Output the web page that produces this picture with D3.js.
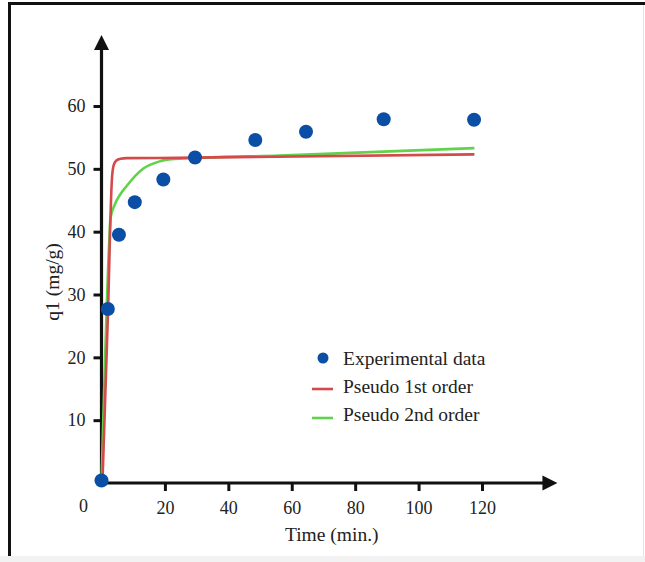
<!DOCTYPE html>
<html>
<head>
<meta charset="utf-8">
<script src="https://cdn.jsdelivr.net/npm/d3@7"></script>
<style>
  body { margin: 0; background: #fff; }
  text { font-family: "Liberation Serif", "Times New Roman", serif; fill: #222; }
</style>
</head>
<body>
<div id="myChart"></div>
<script>
const timeData = [0, 2, 5.5, 10.5, 19.5, 29.5, 48.5, 64.5, 89, 117.5];
const qData = [0.4, 27.7, 39.5, 44.7, 48.3, 51.8, 54.6, 55.9, 57.9, 57.8];

// points
const firstTime = [0.3, 2.1, 2.6, 3.0, 3.3, 3.8, 4.6, 6, 8, 24, 117.6];
const firstQ = [0, 28, 38, 45, 48.5, 50.5, 51.3, 51.6, 51.7, 51.75, 52.3];
const secondTime = [0, 2.4, 2.8, 4.1, 6, 8, 10.5, 13.1, 18.4, 22, 30, 56, 117.6];
const secondQ = [0, 38, 42, 44.2, 46, 47.3, 48.8, 50, 51.2, 51.55, 51.75, 52.1, 53.3];

const xTicks = [20, 40, 60, 80, 100, 120];
const yTicks = [10, 20, 30, 40, 50, 60];
const legendLabels = ["Experimental data", "Pseudo 1st order", "Pseudo 2nd order"];

const colors = { dots: "#0b4ea6", first: "#d44a4a", second: "#62d24c" };

const width = 645;
const height = 562;

const svg = d3
  .select("#myChart")
  .append("svg")
  .attr("width", width)
  .attr("height", height);

// picture frame
svg.append("rect").attr("x", 0).attr("y", 556).attr("width", width).attr("height", 6).attr("fill", "#f2f2f2");
svg.append("line").attr("x1", 8).attr("x2", width).attr("y1", 3.5).attr("y2", 3.5)
  .attr("stroke", "#111").attr("stroke-width", 3);
svg.append("line").attr("x1", 9.5).attr("x2", 9.5).attr("y1", 2).attr("y2", 556)
  .attr("stroke", "#111").attr("stroke-width", 3);
svg.append("line").attr("x1", 643.5).attr("x2", 643.5).attr("y1", 5).attr("y2", 556)
  .attr("stroke", "#e4e4e4").attr("stroke-width", 1);

const x = d3.scaleLinear().domain([0, 120]).range([101.5, 482]);
const y = d3.scaleLinear().domain([0, 60]).range([483, 106]);

const xEnd = 143.8; // arrow tip
const yEnd = 71.3;

const axes = svg.append("g");

// x axis
const xAxis = axes
  .append("g")
  .attr("transform", `translate(0, ${y(0)})`)
  .call(d3.axisBottom(x).tickValues(xTicks).tickSize(8).tickPadding(10));
xAxis.select(".domain").remove();
xAxis.selectAll(".tick line").attr("stroke", "#111").attr("stroke-width", 3);
xAxis.selectAll(".tick text").attr("font-size", 18).attr("fill", "#222")
  .style("font-family", '"Liberation Serif", "Times New Roman", serif');

// y axis
const yAxis = axes
  .append("g")
  .attr("transform", `translate(${x(0)}, 0)`)
  .call(d3.axisLeft(y).tickValues(yTicks).tickSize(8).tickPadding(8));
yAxis.select(".domain").remove();
yAxis.selectAll(".tick line").attr("stroke", "#111").attr("stroke-width", 3);
yAxis.selectAll(".tick text").attr("font-size", 18).attr("fill", "#222")
  .style("font-family", '"Liberation Serif", "Times New Roman", serif');

axes.append("line")
  .attr("x1", x(0) - 1.5).attr("x2", x(xEnd) - 12)
  .attr("y1", y(0)).attr("y2", y(0))
  .attr("stroke", "#111").attr("stroke-width", 3.2);
axes.append("path")
  .attr("d", `M${x(xEnd)},${y(0)} L${x(xEnd) - 15},${y(0) - 7.5} L${x(xEnd) - 15},${y(0) + 7.5} Z`)
  .attr("fill", "#111");

axes.append("line")
  .attr("x1", x(0)).attr("x2", x(0))
  .attr("y1", y(0) + 1.5).attr("y2", y(yEnd) + 12)
  .attr("stroke", "#111").attr("stroke-width", 3.2);
axes.append("path")
  .attr("d", `M${x(0)},${y(yEnd)} L${x(0) - 7.5},${y(yEnd) + 15} L${x(0) + 7.5},${y(yEnd) + 15} Z`)
  .attr("fill", "#111");

// origin label
axes.append("text")
  .attr("x", x(0) - 18)
  .attr("y", y(0) + 29)
  .attr("text-anchor", "middle")
  .attr("font-size", 18)
  .text("0");

// axis titles
svg.append("text")
  .attr("x", (x(0) + x(120)) / 2 + 40)
  .attr("y", 541)
  .attr("text-anchor", "middle")
  .attr("font-size", 19.5)
  .text("Time (min.)");

svg.append("text")
  .attr("transform", `translate(59, ${y(32)}) rotate(-90)`)
  .attr("text-anchor", "middle")
  .attr("font-size", 19.5)
  .text("q1 (mg/g)");

// fitted curves
const line = d3
  .line()
  .x((d) => x(d[0]))
  .y((d) => y(d[1]))
  .curve(d3.curveMonotoneX);

const plot = svg.append("g");

plot.append("path")
  .datum(secondTime.map((t, i) => [t, secondQ[i]]))
  .attr("d", line)
  .attr("fill", "none")
  .attr("stroke", colors.second)
  .attr("stroke-width", 2.6);

plot.append("path")
  .datum(firstTime.map((t, i) => [t, firstQ[i]]))
  .attr("d", line)
  .attr("fill", "none")
  .attr("stroke", colors.first)
  .attr("stroke-width", 2.6);

plot.selectAll("circle")
  .data(timeData.map((t, i) => [t, qData[i]]))
  .enter()
  .append("circle")
  .attr("cx", (d) => x(d[0]))
  .attr("cy", (d) => y(d[1]))
  .attr("r", 7)
  .attr("fill", colors.dots);

// legend
const legend = svg.append("g").attr("transform", "translate(312, 0)");
const rowY = [358, 386, 414];

legend.append("circle").attr("cx", 11).attr("cy", rowY[0]).attr("r", 5.5).attr("fill", colors.dots);
legend.append("line").attr("x1", 0).attr("x2", 21).attr("y1", rowY[1] + 3).attr("y2", rowY[1] + 3)
  .attr("stroke", colors.first).attr("stroke-width", 2.6);
legend.append("line").attr("x1", 0).attr("x2", 21).attr("y1", rowY[2] + 4).attr("y2", rowY[2] + 4)
  .attr("stroke", colors.second).attr("stroke-width", 2.6);

legend.selectAll(".lab")
  .data(legendLabels)
  .enter()
  .append("text")
  .attr("class", "lab")
  .attr("x", 31)
  .attr("y", (d, i) => rowY[i] + 7)
  .attr("font-size", 19.5)
  .text((d) => d);
</script>
</body>
</html>
